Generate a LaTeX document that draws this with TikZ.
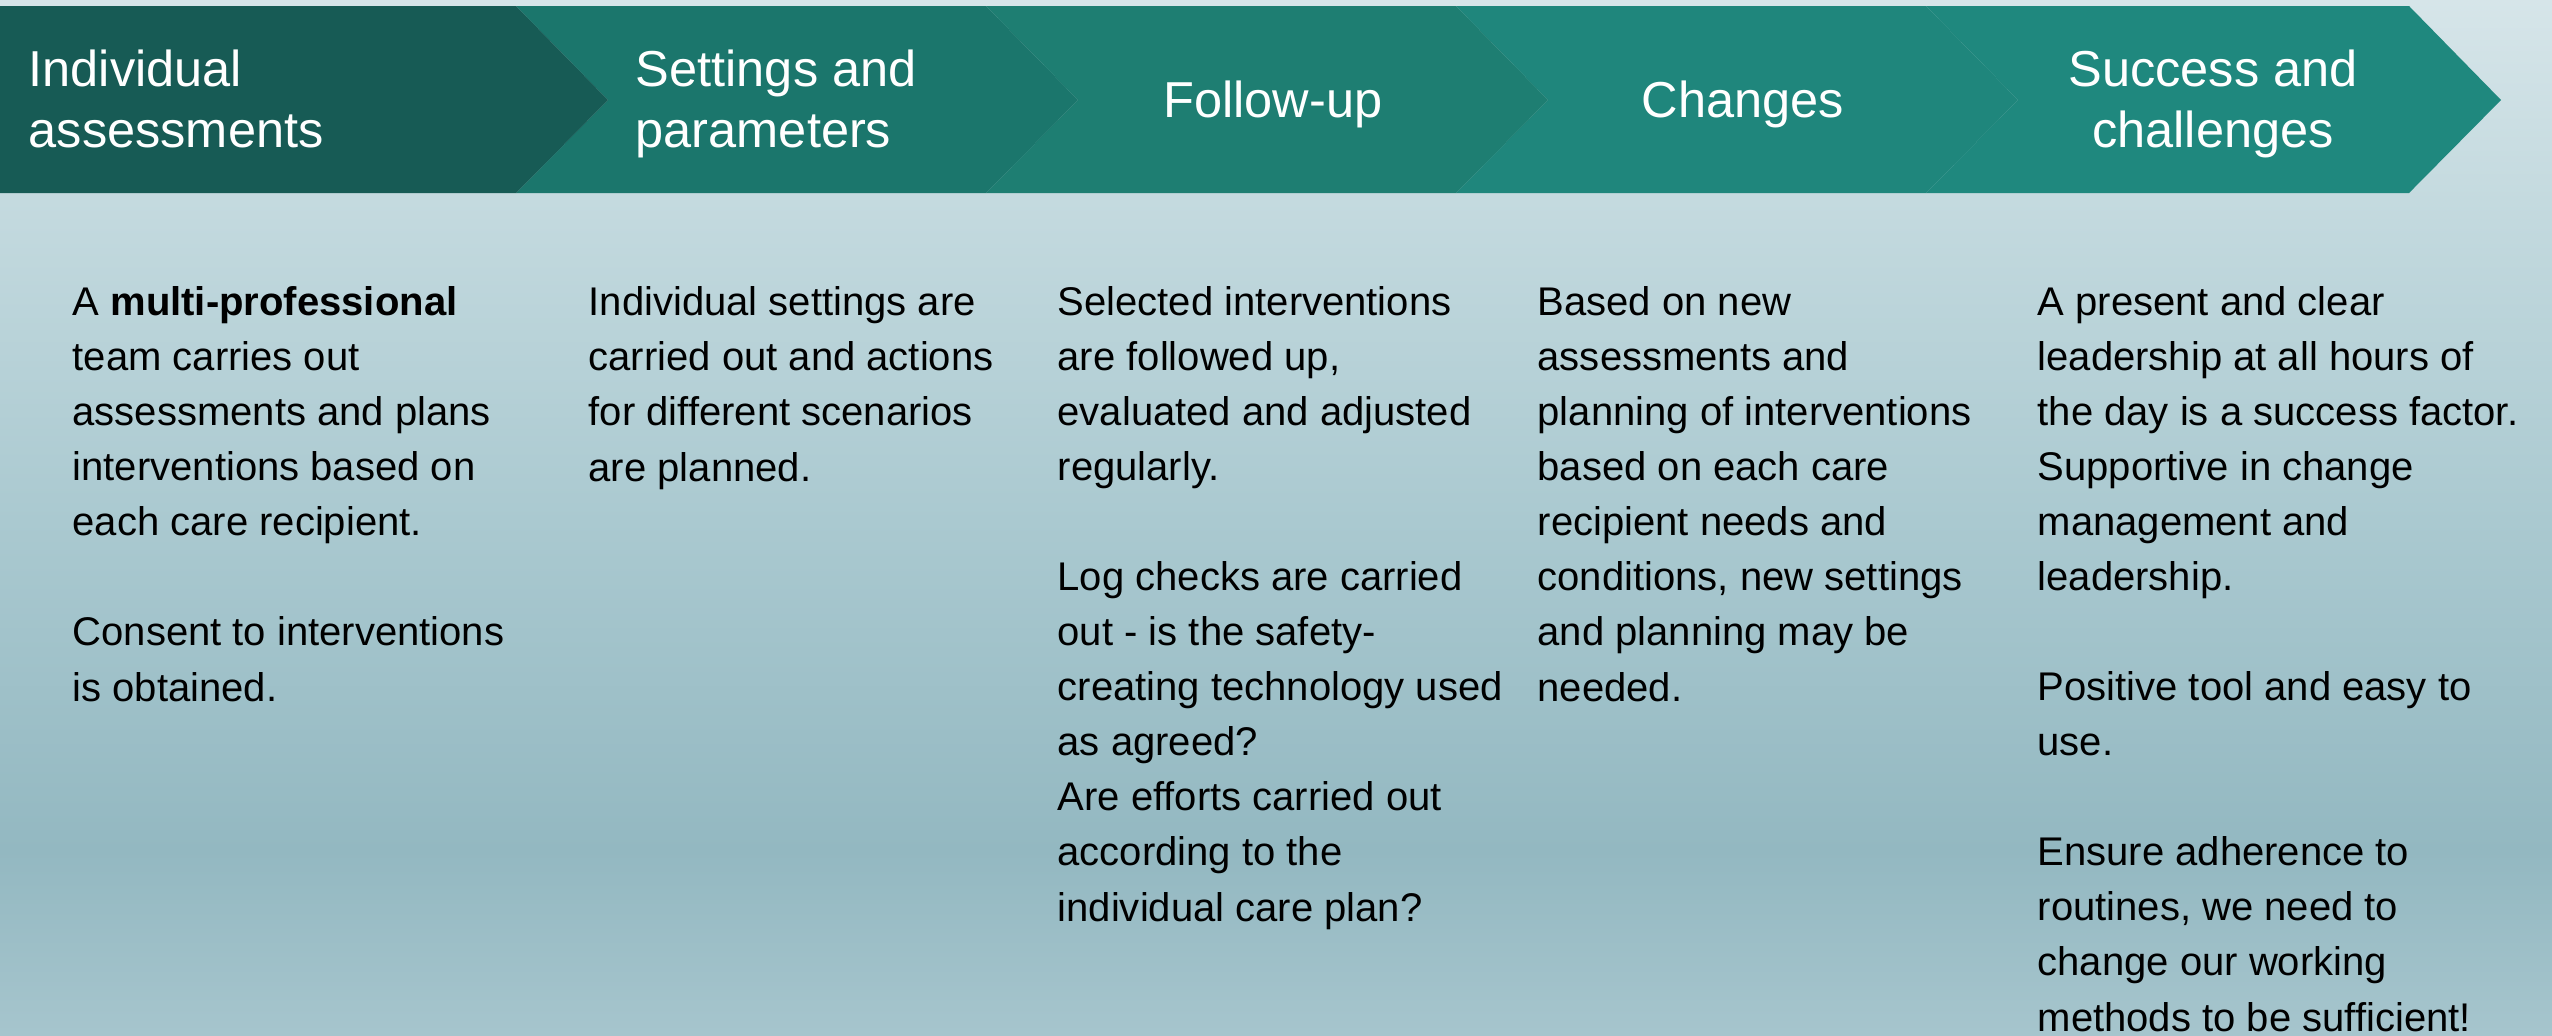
\documentclass[tikz,border=0pt]{standalone}
\usepackage{fontspec}
\setmainfont{Liberation Sans}
\definecolor{bgA}{RGB}{214,229,233}
\definecolor{bgB}{RGB}{196,218,223}
\definecolor{bgC}{RGB}{170,201,208}
\definecolor{bgD}{RGB}{147,184,193}
\definecolor{bgE}{RGB}{166,197,205}
\definecolor{chA}{RGB}{23,91,85}
\definecolor{chB}{RGB}{27,118,108}
\definecolor{chC}{RGB}{30,126,114}
\definecolor{chD}{RGB}{31,134,124}
\definecolor{chE}{RGB}{31,136,126}
\begin{document}
\begin{tikzpicture}[x=0.01cm,y=-0.01cm,
  hdr/.style={text=white,font=\fontsize{14.37}{17.07}\selectfont,inner sep=0pt},
  bodytext/.style={text=black,font=\fontsize{11.38}{15.65}\selectfont,inner sep=0pt,align=left,anchor=base west}]
\useasboundingbox (0,0) rectangle (2552,1035);
% background
\shade[top color=bgA,bottom color=bgB] (0,0) rectangle (2552,201);
\shade[top color=bgB,bottom color=bgC] (0,200) rectangle (2552,521);
\shade[top color=bgC,bottom color=bgD] (0,520) rectangle (2552,851);
\shade[top color=bgD,bottom color=bgE] (0,850) rectangle (2552,1035);
% chevrons
\fill[chE] (1926,6) -- (2409,6) -- (2501,100) -- (2409,193) -- (1926,193) -- (2018,100) -- cycle;
\fill[chD] (1456,6) -- (1926,6) -- (2018,100) -- (1926,193) -- (1456,193) -- (1548,100) -- cycle;
\fill[chC] (986,6) -- (1456,6) -- (1548,100) -- (1456,193) -- (986,193) -- (1078,100) -- cycle;
\fill[chB] (516,6) -- (986,6) -- (1078,100) -- (986,193) -- (516,193) -- (608,100) -- cycle;
\fill[chA] (0,6) -- (516,6) -- (608,100) -- (516,193) -- (0,193) -- cycle;
% headers (base anchor = last line's baseline)
\node[hdr,align=left,anchor=base west] (h1) at (28,147) {Individual\\assessments};
\node[hdr,align=left,anchor=base west] (h2) at (635,147) {Settings and\\parameters};
\node[hdr,anchor=base] (h3) at (1273,117) {Follow-up};
\node[hdr,anchor=base] (h4) at (1743,117) {Changes};
\node[hdr,align=center,anchor=base] (h5) at (2213,147) {Success and\\challenges};
% bodies (base anchor = last line's baseline; first baseline at 316, line pitch 55)
\node[bodytext] (b1) at (72,701) {A \textbf{multi-professional}\\team carries out\\assessments and plans\\interventions based on\\each care recipient.\\[15.65pt]Consent to interventions\\is obtained.};
\node[bodytext] (b2) at (588,481) {Individual settings are\\carried out and actions\\for different scenarios\\are planned.};
\node[bodytext] (b3) at (1057,921) {Selected interventions\\are followed up,\\evaluated and adjusted\\regularly.\\[15.65pt]Log checks are carried\\out - is the safety-\\creating technology used\\as agreed?\\Are efforts carried out\\according to the\\individual care plan?};
\node[bodytext] (b4) at (1537,701) {Based on new\\assessments and\\planning of interventions\\based on each care\\recipient needs and\\conditions, new settings\\and planning may be\\needed.};
\node[bodytext] (b5) at (2037,1031) {A present and clear\\leadership at all hours of\\the day is a success factor.\\Supportive in change\\management and\\leadership.\\[15.65pt]Positive tool and easy to\\use.\\[15.65pt]Ensure adherence to\\routines, we need to\\change our working\\methods to be sufficient!};
\end{tikzpicture}
\end{document}
